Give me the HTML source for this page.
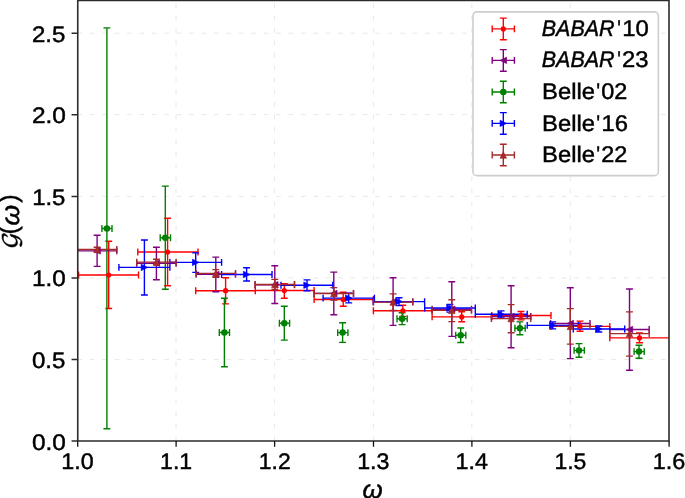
<!DOCTYPE html>
<html lang="en">
<head>
<meta charset="utf-8">
<title>G(ω) vs ω</title>
<style>
html,body{margin:0;padding:0;background:#fff;}
body{width:685px;height:498px;overflow:hidden;font-family:"Liberation Sans",sans-serif;}
svg{display:block;will-change:transform;}
</style>
</head>
<body>
<svg width="685" height="498" viewBox="0 0 685 498" role="img" aria-label="G(omega) form factor versus omega for BABAR and Belle data sets">
<rect width="685" height="498" fill="#fff"/>
<g id="grid" fill="none" stroke="#e8e8e8" stroke-width="1"><path d="M176 440.9V0.55M274.5 440.9V0.55M373.4 440.9V0.55M471.8 440.9V0.55M570.3 440.9V0.55" stroke-dasharray="4.7 7.669"/><path d="M77.4 359.45H669.1M77.4 277.95H669.1M77.4 196.4H669.1M77.4 114.65H669.1M77.4 33.2H669.1" stroke-dasharray="4.7 7.716"/></g>
<clipPath id="axclip"><rect x="77.5" y="0.55" width="591.6" height="440.35"/></clipPath>
<g clip-path="url(#axclip)">
<g id="errorbars"><g id="red-bars" fill="none" stroke="#ff0000"><path d="M78.6 275H138.5M108.7 241.2V308.5M137.8 252H198M167.6 218.2V285.7M195.7 290.7H255.3M225.6 277.8V303.9M255.3 290.5H314.1M284.3 283.8V298.3M314.1 299.5H373.4M343.2 292.2V306.3M373.4 310.75H432.1M402.8 305.3V316.4M432.1 316.9H491.8M461.7 311.7V321.7M491.8 315.55H551M521 311.5V319.9M551 326.35H609.8M580 321.1V331.3M609.8 337.9H669.1M639.5 333V342.8" stroke-width="1.4"/><path d="M78.6 271.55V278.45M138.5 271.55V278.45M105.25 241.2H112.15M105.25 308.5H112.15M137.8 248.55V255.45M198 248.55V255.45M164.15 218.2H171.05M164.15 285.7H171.05M195.7 287.25V294.15M255.3 287.25V294.15M222.15 277.8H229.05M222.15 303.9H229.05M255.3 287.05V293.95M314.1 287.05V293.95M280.85 283.8H287.75M280.85 298.3H287.75M314.1 296.05V302.95M373.4 296.05V302.95M339.75 292.2H346.65M339.75 306.3H346.65M373.4 307.3V314.2M432.1 307.3V314.2M399.35 305.3H406.25M399.35 316.4H406.25M432.1 313.45V320.35M491.8 313.45V320.35M458.25 311.7H465.15M458.25 321.7H465.15M491.8 312.1V319M551 312.1V319M517.55 311.5H524.45M517.55 319.9H524.45M551 322.9V329.8M609.8 322.9V329.8M576.55 321.1H583.45M576.55 331.3H583.45M609.8 334.45V341.35M636.05 333H642.95M636.05 342.8H642.95" stroke-width="1.4"/></g><g id="purple-bars" fill="none" stroke="#800080"><path d="M77.5 250.9H116.8M97.1 235.3V266.4M136.7 263.2H176.1M156.4 247.3V279.7M196.1 274.4H235.5M215.8 257.1V291.7M255.1 284.8H294.5M274.8 265.8V303.5M314.1 293.4H353.5M333.8 272.1V314.7M373.4 301.7H412.8M393.1 277.8V325.4M432.1 309.2H471.5M451.8 281.7V336.4M491.4 316.5H530.8M511.1 285.8V347.8M550.6 323.45H590M570.3 287.7V358.6M609.8 329.55H649.2M629.5 289V370.2" stroke-width="1.4"/><path d="M116.8 247.45V254.35M93.65 235.3H100.55M93.65 266.4H100.55M136.7 259.75V266.65M176.1 259.75V266.65M152.95 247.3H159.85M152.95 279.7H159.85M196.1 270.95V277.85M235.5 270.95V277.85M212.35 257.1H219.25M212.35 291.7H219.25M255.1 281.35V288.25M294.5 281.35V288.25M271.35 265.8H278.25M271.35 303.5H278.25M314.1 289.95V296.85M353.5 289.95V296.85M330.35 272.1H337.25M330.35 314.7H337.25M373.4 298.25V305.15M412.8 298.25V305.15M389.65 277.8H396.55M389.65 325.4H396.55M432.1 305.75V312.65M471.5 305.75V312.65M448.35 281.7H455.25M448.35 336.4H455.25M491.4 313.05V319.95M530.8 313.05V319.95M507.65 285.8H514.55M507.65 347.8H514.55M550.6 320V326.9M590 320V326.9M566.85 287.7H573.75M566.85 358.6H573.75M609.8 326.1V333M649.2 326.1V333M626.05 289H632.95M626.05 370.2H632.95" stroke-width="1.4"/></g><g id="green-bars" fill="none" stroke="#008000"><path d="M101.9 228.5H112M106.9 27.9V428.8M160.2 237.7H170.5M165.3 186.1V289.3M219.3 332.5H229.5M224.4 298.3V366.7M279.4 323.2H289.6M284.3 306.3V340.1M337.7 332.6H347.9M342.6 322.8V342.4M397 318.7H407.2M402.1 312.7V324.6M455.7 335.3H465.8M460.7 328V342.5M514.9 328.3H525.2M519.9 321.9V334.8M574.1 350.4H584.3M579 343.6V357.2M634.1 351.6H644.2M639 345.2V358.2" stroke-width="1.4"/><path d="M101.9 225.05V231.95M112 225.05V231.95M103.45 27.9H110.35M103.45 428.8H110.35M160.2 234.25V241.15M170.5 234.25V241.15M161.85 186.1H168.75M161.85 289.3H168.75M219.3 329.05V335.95M229.5 329.05V335.95M220.95 298.3H227.85M220.95 366.7H227.85M279.4 319.75V326.65M289.6 319.75V326.65M280.85 306.3H287.75M280.85 340.1H287.75M337.7 329.15V336.05M347.9 329.15V336.05M339.15 322.8H346.05M339.15 342.4H346.05M397 315.25V322.15M407.2 315.25V322.15M398.65 312.7H405.55M398.65 324.6H405.55M455.7 331.85V338.75M465.8 331.85V338.75M457.25 328H464.15M457.25 342.5H464.15M514.9 324.85V331.75M525.2 324.85V331.75M516.45 321.9H523.35M516.45 334.8H523.35M574.1 346.95V353.85M584.3 346.95V353.85M575.55 343.6H582.45M575.55 357.2H582.45M634.1 348.15V355.05M644.2 348.15V355.05M635.55 345.2H642.45M635.55 358.2H642.45" stroke-width="1.4"/></g><g id="blue-bars" fill="none" stroke="#0000ff"><path d="M118.9 267.4H169.9M144.4 240V295M169.9 262.4H221.6M195.7 252.9V272.4M221.6 274.5H272M246.6 267.8V281M281 285.2H332.8M307 279.9V290.7M323.1 298.1H374.4M348.7 293.3V302.9M373.4 301.6H424.6M399 297.8V305.6M424.7 308H475.3M449.9 304.4V312.1M475.3 314.3H527.2M501.1 310.9V317.9M527.2 325.4H578.3M552.7 321.9V328.9M573.3 329H624.7M598.8 326V332" stroke-width="1.4"/><path d="M118.9 263.95V270.85M169.9 263.95V270.85M140.95 240H147.85M140.95 295H147.85M169.9 258.95V265.85M221.6 258.95V265.85M192.25 252.9H199.15M192.25 272.4H199.15M221.6 271.05V277.95M272 271.05V277.95M243.15 267.8H250.05M243.15 281H250.05M281 281.75V288.65M332.8 281.75V288.65M303.55 279.9H310.45M303.55 290.7H310.45M323.1 294.65V301.55M374.4 294.65V301.55M345.25 293.3H352.15M345.25 302.9H352.15M373.4 298.15V305.05M424.6 298.15V305.05M395.55 297.8H402.45M395.55 305.6H402.45M424.7 304.55V311.45M475.3 304.55V311.45M446.45 304.4H453.35M446.45 312.1H453.35M475.3 310.85V317.75M527.2 310.85V317.75M497.65 310.9H504.55M497.65 317.9H504.55M527.2 321.95V328.85M578.3 321.95V328.85M549.25 321.9H556.15M549.25 328.9H556.15M573.3 325.55V332.45M624.7 325.55V332.45M595.35 326H602.25M595.35 332H602.25" stroke-width="1.4"/></g><g id="brown-bars" fill="none" stroke="#a52a2a"><path d="M77.5 249.5H116.8M97.1 247.2V251.9M136.7 262.1H176.1M156.4 259.3V264.9M196.1 273.35H235.5M215.8 269.6V277.3M255.1 284.5H294.5M274.8 279.4V289.5M314.1 293.45H353.5M333.8 287.6V300M373.4 302.1H412.8M393.1 293.9V310.5M432.1 310.4H471.5M451.8 299.8V321.6M491.4 318.6H530.8M511.1 304.6V332.8M550.6 326.4H590M570.3 308.6V344.1M609.8 333.65H649.2M629.5 311.9V356.1" stroke-width="1.4"/><path d="M116.8 246.05V252.95M93.65 247.2H100.55M93.65 251.9H100.55M136.7 258.65V265.55M176.1 258.65V265.55M152.95 259.3H159.85M152.95 264.9H159.85M196.1 269.9V276.8M235.5 269.9V276.8M212.35 269.6H219.25M212.35 277.3H219.25M255.1 281.05V287.95M294.5 281.05V287.95M271.35 279.4H278.25M271.35 289.5H278.25M314.1 290V296.9M353.5 290V296.9M330.35 287.6H337.25M330.35 300H337.25M373.4 298.65V305.55M412.8 298.65V305.55M389.65 293.9H396.55M389.65 310.5H396.55M432.1 306.95V313.85M471.5 306.95V313.85M448.35 299.8H455.25M448.35 321.6H455.25M491.4 315.15V322.05M530.8 315.15V322.05M507.65 304.6H514.55M507.65 332.8H514.55M550.6 322.95V329.85M590 322.95V329.85M566.85 308.6H573.75M566.85 344.1H573.75M609.8 330.2V337.1M649.2 330.2V337.1M626.05 311.9H632.95M626.05 356.1H632.95" stroke-width="1.4"/></g></g>
<g id="markers"><g id="red-marks"><circle cx="108.7" cy="275" r="2.6" fill="#ff0000"/><circle cx="167.6" cy="252" r="2.6" fill="#ff0000"/><circle cx="225.6" cy="290.7" r="2.6" fill="#ff0000"/><circle cx="284.3" cy="290.5" r="2.6" fill="#ff0000"/><circle cx="343.2" cy="299.5" r="2.6" fill="#ff0000"/><circle cx="402.8" cy="310.75" r="2.6" fill="#ff0000"/><circle cx="461.7" cy="316.9" r="2.6" fill="#ff0000"/><circle cx="521" cy="315.55" r="2.6" fill="#ff0000"/><circle cx="580" cy="326.35" r="2.6" fill="#ff0000"/><circle cx="639.5" cy="337.9" r="2.6" fill="#ff0000"/></g><g id="purple-marks"><path d="M100.3 247.7 L93.9 250.9 L100.3 254.1Z" fill="#800080" stroke="#800080" stroke-width="0.7" stroke-linejoin="miter"/><path d="M159.6 260 L153.2 263.2 L159.6 266.4Z" fill="#800080" stroke="#800080" stroke-width="0.7" stroke-linejoin="miter"/><path d="M219 271.2 L212.6 274.4 L219 277.6Z" fill="#800080" stroke="#800080" stroke-width="0.7" stroke-linejoin="miter"/><path d="M278 281.6 L271.6 284.8 L278 288Z" fill="#800080" stroke="#800080" stroke-width="0.7" stroke-linejoin="miter"/><path d="M337 290.2 L330.6 293.4 L337 296.6Z" fill="#800080" stroke="#800080" stroke-width="0.7" stroke-linejoin="miter"/><path d="M396.3 298.5 L389.9 301.7 L396.3 304.9Z" fill="#800080" stroke="#800080" stroke-width="0.7" stroke-linejoin="miter"/><path d="M455 306 L448.6 309.2 L455 312.4Z" fill="#800080" stroke="#800080" stroke-width="0.7" stroke-linejoin="miter"/><path d="M514.3 313.3 L507.9 316.5 L514.3 319.7Z" fill="#800080" stroke="#800080" stroke-width="0.7" stroke-linejoin="miter"/><path d="M573.5 320.25 L567.1 323.45 L573.5 326.65Z" fill="#800080" stroke="#800080" stroke-width="0.7" stroke-linejoin="miter"/><path d="M632.7 326.35 L626.3 329.55 L632.7 332.75Z" fill="#800080" stroke="#800080" stroke-width="0.7" stroke-linejoin="miter"/></g><g id="green-marks"><circle cx="106.9" cy="228.5" r="3.25" fill="#008000"/><circle cx="165.3" cy="237.7" r="3.25" fill="#008000"/><circle cx="224.4" cy="332.5" r="3.25" fill="#008000"/><circle cx="284.3" cy="323.2" r="3.25" fill="#008000"/><circle cx="342.6" cy="332.6" r="3.25" fill="#008000"/><circle cx="402.1" cy="318.7" r="3.25" fill="#008000"/><circle cx="460.7" cy="335.3" r="3.25" fill="#008000"/><circle cx="519.9" cy="328.3" r="3.25" fill="#008000"/><circle cx="579" cy="350.4" r="3.25" fill="#008000"/><circle cx="639" cy="351.6" r="3.25" fill="#008000"/></g><g id="blue-marks"><path d="M141.2 264.2 L147.6 267.4 L141.2 270.6Z" fill="#0000ff" stroke="#0000ff" stroke-width="0.7" stroke-linejoin="miter"/><path d="M192.5 259.2 L198.9 262.4 L192.5 265.6Z" fill="#0000ff" stroke="#0000ff" stroke-width="0.7" stroke-linejoin="miter"/><path d="M243.4 271.3 L249.8 274.5 L243.4 277.7Z" fill="#0000ff" stroke="#0000ff" stroke-width="0.7" stroke-linejoin="miter"/><path d="M303.8 282 L310.2 285.2 L303.8 288.4Z" fill="#0000ff" stroke="#0000ff" stroke-width="0.7" stroke-linejoin="miter"/><path d="M345.5 294.9 L351.9 298.1 L345.5 301.3Z" fill="#0000ff" stroke="#0000ff" stroke-width="0.7" stroke-linejoin="miter"/><path d="M395.8 298.4 L402.2 301.6 L395.8 304.8Z" fill="#0000ff" stroke="#0000ff" stroke-width="0.7" stroke-linejoin="miter"/><path d="M446.7 304.8 L453.1 308 L446.7 311.2Z" fill="#0000ff" stroke="#0000ff" stroke-width="0.7" stroke-linejoin="miter"/><path d="M497.9 311.1 L504.3 314.3 L497.9 317.5Z" fill="#0000ff" stroke="#0000ff" stroke-width="0.7" stroke-linejoin="miter"/><path d="M549.5 322.2 L555.9 325.4 L549.5 328.6Z" fill="#0000ff" stroke="#0000ff" stroke-width="0.7" stroke-linejoin="miter"/><path d="M595.6 325.8 L602 329 L595.6 332.2Z" fill="#0000ff" stroke="#0000ff" stroke-width="0.7" stroke-linejoin="miter"/></g><g id="brown-marks"><path d="M93.9 252.7 L97.1 246.3 L100.3 252.7Z" fill="#a52a2a" stroke="#a52a2a" stroke-width="0.7" stroke-linejoin="miter"/><path d="M153.2 265.3 L156.4 258.9 L159.6 265.3Z" fill="#a52a2a" stroke="#a52a2a" stroke-width="0.7" stroke-linejoin="miter"/><path d="M212.6 276.55 L215.8 270.15 L219 276.55Z" fill="#a52a2a" stroke="#a52a2a" stroke-width="0.7" stroke-linejoin="miter"/><path d="M271.6 287.7 L274.8 281.3 L278 287.7Z" fill="#a52a2a" stroke="#a52a2a" stroke-width="0.7" stroke-linejoin="miter"/><path d="M330.6 296.65 L333.8 290.25 L337 296.65Z" fill="#a52a2a" stroke="#a52a2a" stroke-width="0.7" stroke-linejoin="miter"/><path d="M389.9 305.3 L393.1 298.9 L396.3 305.3Z" fill="#a52a2a" stroke="#a52a2a" stroke-width="0.7" stroke-linejoin="miter"/><path d="M448.6 313.6 L451.8 307.2 L455 313.6Z" fill="#a52a2a" stroke="#a52a2a" stroke-width="0.7" stroke-linejoin="miter"/><path d="M507.9 321.8 L511.1 315.4 L514.3 321.8Z" fill="#a52a2a" stroke="#a52a2a" stroke-width="0.7" stroke-linejoin="miter"/><path d="M567.1 329.6 L570.3 323.2 L573.5 329.6Z" fill="#a52a2a" stroke="#a52a2a" stroke-width="0.7" stroke-linejoin="miter"/><path d="M626.3 336.85 L629.5 330.45 L632.7 336.85Z" fill="#a52a2a" stroke="#a52a2a" stroke-width="0.7" stroke-linejoin="miter"/></g></g>
</g>
<path id="spines" d="M77.75 0.35H669.0V440.95H77.75Z" fill="none" stroke="#2e2a2a" stroke-width="1.6"/>
<path id="xticks" d="M77.7 440.95v5.7M176.1 440.95v5.7M274.6 440.95v5.7M373.5 440.95v5.7M471.9 440.95v5.7M570.4 440.95v5.7M669.1 440.95v5.7" fill="none" stroke="#111" stroke-width="1.3"/>
<path id="yticks" d="M77.75 441h-6.2M77.75 359.45h-6.2M77.75 277.95h-6.2M77.75 196.4h-6.2M77.75 114.65h-6.2M77.75 33.2h-6.2" fill="none" stroke="#2e2a2a" stroke-width="1.5"/>
<g id="labels" text-rendering="geometricPrecision" font-family="Liberation Sans, sans-serif" fill="#000" stroke="#000" stroke-width="0.45">
<g id="xticklabels">
<text transform="translate(61.21 469.1) scale(1.0352 1)" font-size="22.5">1.0</text>
<text transform="translate(160.1 469.1) scale(1.0242 1)" font-size="22.5">1.1</text>
<text transform="translate(258.79 469.1) scale(1.0183 1)" font-size="22.5">1.2</text>
<text transform="translate(357.16 469.1) scale(1.0289 1)" font-size="22.5">1.3</text>
<text transform="translate(455.5 469.1) scale(1.0344 1)" font-size="22.5">1.4</text>
<text transform="translate(554.45 469.1) scale(1.0198 1)" font-size="22.5">1.5</text>
<text transform="translate(652.76 469.1) scale(1.0414 1)" font-size="22.5">1.6</text>
</g>
<g id="yticklabels">
<text transform="translate(31.99 449.5) scale(1.0834 1)" font-size="22.5">0.0</text>
<text transform="translate(32 367.9) scale(1.0678 1)" font-size="22.5">0.5</text>
<text transform="translate(32.11 286.3) scale(1.0795 1)" font-size="22.5">1.0</text>
<text transform="translate(32.13 204.7) scale(1.0635 1)" font-size="22.5">1.5</text>
<text transform="translate(31.9 123.1) scale(1.0865 1)" font-size="22.5">2.0</text>
<text transform="translate(31.91 41.5) scale(1.0707 1)" font-size="22.5">2.5</text>
</g>
<g id="xlabel"><text transform="translate(362.59 497.5) scale(1.0163 1)" font-size="25.5" font-style="italic">ω</text></g>
<g id="ylabel" transform="translate(19.2 247.0) rotate(-90)">
<path transform="translate(-1.08 0) scale(0.01196 -0.01196)" d="M109 -156Q104 -153 104 -143Q104 -109 164.0 -76.0Q224 -43 262 -39H272Q369 -86 429.5 -104.5Q490 -123 580 -123Q625 -123 651 -111Q725 -63 784.0 61.5Q843 186 883 317Q789 240 674.5 189.5Q560 139 449 139Q329 139 248.5 195.0Q168 251 129.0 345.5Q90 440 90 557Q90 731 160.0 892.0Q230 1053 351.5 1177.0Q473 1301 633.5 1372.5Q794 1444 967 1444H979Q1081 1444 1155.0 1416.0Q1229 1388 1229 1307Q1229 1268 1203.5 1214.0Q1178 1160 1141.5 1109.0Q1105 1058 1071 1024Q1011 971 944 965H934Q920 972 920 979Q920 989 958.0 1042.0Q996 1095 1021.5 1138.5Q1047 1182 1047 1217Q1047 1282 981.0 1302.5Q915 1323 829 1323Q737 1323 661.5 1298.0Q586 1273 525.0 1224.0Q464 1175 412 1098Q346 999 309.0 879.5Q272 760 272 645Q272 569 291.0 501.0Q310 433 349.5 378.0Q389 323 448.0 291.5Q507 260 586 260Q658 260 721.0 295.0Q784 330 834.5 388.5Q885 447 921.5 520.0Q958 593 975 659Q986 695 1038.5 726.0Q1091 757 1133 760H1143Q1157 753 1157 741Q1126 613 1109.5 547.5Q1093 482 1069.0 404.5Q1045 327 1011.0 242.0Q977 157 938 90Q886 -3 810.5 -79.0Q735 -155 642.0 -199.5Q549 -244 444 -244H434Q255 -244 109 -156Z" fill="#000" vector-effect="non-scaling-stroke" stroke-width="0.5"><title>script G</title></path>
<text transform="translate(12.41 -2) scale(0.9883 1)" font-size="25.2">(</text>
<text transform="translate(21.47 0) scale(1.0384 1)" font-size="25.5" font-style="italic">ω</text>
<text transform="translate(44.35 -2) scale(1.0073 1)" font-size="25.2">)</text>
</g>
</g>
<g id="legend">
<rect x="472.95" y="11.85" width="185.4" height="163.8" rx="4" ry="4" fill="#fff" fill-opacity="0.8" stroke="#cecece" stroke-width="1.6"/>
<g id="legendtext" text-rendering="geometricPrecision" font-family="Liberation Sans, sans-serif" fill="#000" stroke="#000" stroke-width="0.45">
<text transform="translate(541.76 35.5) scale(0.9501 1)" font-size="22.6" font-style="italic">BABAR</text><text transform="translate(617.16 35.5) scale(0.8358 1)" font-size="22.6">'</text><text transform="translate(622.21 35.5) scale(1.0575 1)" font-size="22.6">10</text>
<text transform="translate(541.76 67.2) scale(0.9501 1)" font-size="22.6" font-style="italic">BABAR</text><text transform="translate(617.16 67.2) scale(0.8358 1)" font-size="22.6">'</text><text transform="translate(621.91 67.2) scale(1.0541 1)" font-size="22.6">23</text>
<text transform="translate(542.05 99.2) scale(1.0525 1)" font-size="22.6">Belle</text><text transform="translate(596.2 99.2) scale(0.8850 1)" font-size="22.6">'</text><text transform="translate(601.26 99.2) scale(1.0368 1)" font-size="22.6">02</text>
<text transform="translate(542.05 130.5) scale(1.0525 1)" font-size="22.6">Belle</text><text transform="translate(596.2 130.5) scale(0.8850 1)" font-size="22.6">'</text><text transform="translate(601.51 130.5) scale(1.0539 1)" font-size="22.6">16</text>
<text transform="translate(542.05 162.3) scale(1.0525 1)" font-size="22.6">Belle</text><text transform="translate(596.2 162.3) scale(0.8850 1)" font-size="22.6">'</text><text transform="translate(601.23 162.3) scale(1.0383 1)" font-size="22.6">22</text>
</g>
<path d="M492.2 28.9H514.4M503.3 18.1V39.7M492.2 25.45V32.35M514.4 25.45V32.35M499.85 18.1H506.75M499.85 39.7H506.75" fill="none" stroke="#ff0000" stroke-width="1.4"/><circle cx="503.3" cy="28.9" r="2.6" fill="#ff0000"/>
<path d="M492.2 60.4H514.4M503.3 49.6V71.2M492.2 56.95V63.85M514.4 56.95V63.85M499.85 49.6H506.75M499.85 71.2H506.75" fill="none" stroke="#800080" stroke-width="1.4"/><path d="M506.5 57.2 L500.1 60.4 L506.5 63.6Z" fill="#800080" stroke="#800080" stroke-width="0.7" stroke-linejoin="miter"/>
<path d="M492.2 92H514.4M503.3 81.2V102.8M492.2 88.55V95.45M514.4 88.55V95.45M499.85 81.2H506.75M499.85 102.8H506.75" fill="none" stroke="#008000" stroke-width="1.4"/><circle cx="503.3" cy="92" r="3.25" fill="#008000"/>
<path d="M492.2 123.4H514.4M503.3 112.6V134.2M492.2 119.95V126.85M514.4 119.95V126.85M499.85 112.6H506.75M499.85 134.2H506.75" fill="none" stroke="#0000ff" stroke-width="1.4"/><path d="M500.1 120.2 L506.5 123.4 L500.1 126.6Z" fill="#0000ff" stroke="#0000ff" stroke-width="0.7" stroke-linejoin="miter"/>
<path d="M492.2 155H514.4M503.3 144.2V165.8M492.2 151.55V158.45M514.4 151.55V158.45M499.85 144.2H506.75M499.85 165.8H506.75" fill="none" stroke="#a52a2a" stroke-width="1.4"/><path d="M500.1 158.2 L503.3 151.8 L506.5 158.2Z" fill="#a52a2a" stroke="#a52a2a" stroke-width="0.7" stroke-linejoin="miter"/>
</g>
</svg>
</body>
</html>
